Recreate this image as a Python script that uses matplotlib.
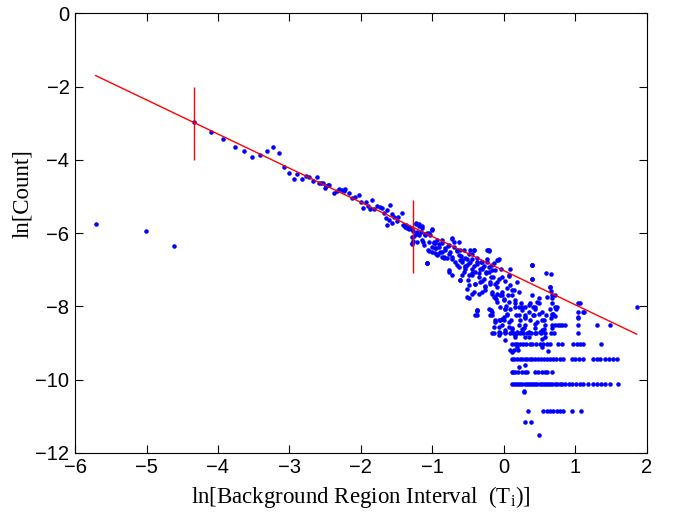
import matplotlib
matplotlib.use("Agg")
import matplotlib.pyplot as plt

# fitted power-law line and its two range markers
fit_x = [-5.71, 1.86]
fit_y = [-1.70, -8.76]
marker_x = [-4.33, -1.27]
marker_lo = [-4.0, -7.1]
marker_hi = [-2.0, -5.1]

# scattered points
cloud_x = [
    -5.71, -5.01, -4.62, 1.86,
    -4.33, -4.10, -3.93, -3.76, -3.63, -3.52, -3.41, -3.32, -3.23, -3.15,
    -3.08, -3.01, -2.94, -2.89, -2.82, -2.77, -2.72, -2.67, -2.62, -2.58,
    -2.53, -2.50, -2.46,
    -2.56, -2.49, -2.44, -2.38, -2.34, -2.30, -2.27, -2.24, -2.22, -2.16,
    -2.12, -2.08, -2.03, -2.00, -1.97, -1.93, -1.90, -1.85, -1.87, -1.82,
    -1.77, -1.73, -1.70, -1.68, -1.63, -1.59, -1.65, -1.61, -1.57, -1.54,
    -1.50, -1.48, -1.43, -1.63, -1.56, -1.41, -1.38, -1.35, -1.32, -1.27,
    -1.23, -1.19, -1.15, -1.21, -1.23, -1.29, -1.27, -1.29, -1.22, -1.10,
    -1.05, -1.00, -0.98, -1.06, -0.96,
    -1.37, -1.33, -1.28, -1.23, -1.19, -1.15, -1.25, -1.29, -1.18, -1.13,
    -1.08, -1.03, -1.01, -1.05, -0.97, -0.95, -0.91, -0.87, -1.08, -0.92,
    -0.87, -0.84, -0.82, -0.78, -0.72, -0.77, -0.73, -0.70, -0.66, -0.63,
    -0.60, -0.77, -0.65, -0.58, -0.55, -0.61, -0.52, -0.48, -0.45, -0.42,
    -0.38, -0.34, -0.31, -0.51, -0.41, -0.28, -0.23, -0.21, -0.25, -0.18,
    -0.14, -0.12, -0.26, -0.35, -0.44, -0.17, -0.09,
    -0.62, -0.49, -0.42, -0.22, -0.07, 0.09, 0.39, 0.59, 0.67, 0.73,
    -0.58, -0.54, -0.49, -0.44, -0.37, -0.32, -0.30, -0.25, -0.21, -0.17,
    -0.12, -0.04, -0.59, -0.50, -0.44, -0.41, -0.35, -0.30, -0.26, -0.19,
    -0.15, -0.09, -0.03, 0.02, 0.07, -0.51, -0.37, -0.17, -0.11, -0.05,
    0.00, 0.06, 0.11, 0.16, 0.21, 0.03, 0.09, 0.15, 0.24, 0.30,
    0.36, 0.41, 0.47, 0.49, -0.17, -0.12, -0.03, 0.04, 0.10, 0.17,
    0.23, 0.30, 0.36, 0.42, 0.53, 0.59, -0.07, 0.02, 0.11, 0.19,
    0.28, 0.35, 0.43, 0.50, 0.56, 0.68, -0.14, -0.18,
    0.39, 0.39, 0.65, 0.66, 1.04, 1.11, 1.04, -0.09, -0.24, -0.40,
    -0.38, -0.49, -1.07,
    0.65, 0.66, 0.67, 0.72, 0.68, 0.75, 0.67, 0.71, 0.66, 1.06,
    1.04, 1.12, 1.04,
    -0.03, 0.02, 0.00, 0.07, 0.11, 0.16, 0.18, 0.14, 0.25, 0.30,
    0.35, 0.44, 0.49, 0.53, 0.58, 0.44, 0.25, 0.30, 0.53, 0.62,
    0.21, 0.28, -0.17, -0.14, -0.07, -0.05, -0.12, -0.21, 0.02,
    0.08, 0.12, 0.20, 0.30, 0.28, 0.30, 0.38, 0.49,
]
cloud_y = [
    -5.75, -5.93, -6.34, -8.02,
    -2.97, -3.23, -3.43, -3.66, -3.75, -3.93, -3.86, -3.75, -3.66, -3.82,
    -4.20, -4.37, -4.53, -4.38, -4.52, -4.45, -4.48, -4.58, -4.47, -4.63,
    -4.64, -4.76, -4.69,
    -4.63, -4.72, -4.70, -4.90, -4.86, -4.79, -4.83, -4.86, -4.79, -4.90,
    -5.03, -5.01, -4.95, -5.16, -5.32, -5.15, -5.25, -5.10, -5.34, -5.34,
    -5.25, -5.28, -5.31, -5.46, -5.36, -5.22, -5.60, -5.65, -5.48, -5.56,
    -5.67, -5.57, -5.46, -5.77, -5.72, -5.77, -5.83, -5.87, -5.90, -5.94,
    -5.74, -5.81, -5.85, -5.96, -6.03, -6.10, -6.21, -6.30, -6.25, -6.03,
    -6.01, -5.90, -6.24, -6.47, -6.54,
    -5.78, -5.83, -5.88, -5.72, -5.76, -5.81, -6.07, -6.28, -6.05, -6.25,
    -5.99, -6.05, -6.38, -6.49, -6.27, -6.41, -6.30, -6.18, -6.81, -6.56,
    -6.52, -6.65, -6.45, -6.34, -6.14, -6.56, -6.70, -6.38, -6.49, -6.25,
    -6.63, -7.01, -6.88, -6.80, -6.89, -7.29, -6.70, -6.47, -7.10, -6.89,
    -6.69, -6.98, -6.80, -7.54, -7.38, -6.89, -6.70, -6.49, -7.10, -7.20,
    -6.83, -7.38, -7.56, -7.65, -7.65, -7.01, -7.65,
    -6.45, -6.56, -6.45, -6.47, -6.72, -6.98, -6.88, -7.10, -7.76, -8.06,
    -6.74, -6.92, -6.83, -6.72, -6.85, -6.78, -6.94, -7.07, -6.92, -6.87,
    -7.01, -6.98, -7.14, -7.27, -7.14, -7.38, -7.21, -7.31, -7.45, -7.38,
    -7.21, -7.34, -7.20, -7.32, -7.18, -7.74, -8.13, -7.65, -7.80, -7.69,
    -7.81, -7.70, -7.56, -7.83, -7.61, -7.98, -8.07, -8.02, -7.92, -8.02,
    -7.91, -8.02, -7.89, -7.76, -8.25, -8.38, -8.34, -8.25, -8.38, -8.25,
    -8.38, -8.25, -8.38, -8.25, -8.38, -8.25, -8.56, -8.65, -8.58, -8.71,
    -8.58, -8.71, -8.58, -8.71, -8.62, -8.60, -8.74, -8.11,
    -6.88, -7.26, -7.47, -7.12, -7.92, -8.15, -8.29, -6.74, -6.47, -8.24,
    -8.11, -7.76, -6.81,
    -7.47, -7.58, -7.70, -7.70, -7.91, -8.03, -8.20, -8.27, -8.31, -7.91,
    -8.16, -8.16, -8.33,
    -7.70, -8.06, -8.38, -8.56, -8.70, -8.84, -9.11, -9.20, -8.02, -8.29,
    -8.15, -8.47, -8.20, -8.65, -8.84, -8.02, -8.61, -8.84, -9.11, -9.22,
    -9.66, -10.31, -8.15, -8.56, -8.70, -8.38, -8.43, -8.06, -8.93,
    -9.18, -9.25, -9.20, -9.60, -10.34, -11.16, -11.16, -11.50,
]

# extra points from the crowded middle of the cloud
dense_x = [
    -1.16, -1.10, -1.00, -1.05, -0.98, -0.93, -0.91, -0.86, -0.82, -0.77,
    -0.73, -0.70, -1.00, -0.93, -0.86, -0.79, -0.72, -0.65, -0.63, -0.56,
    -0.54, -0.44, -0.42, -1.07, -0.77, -0.72, -0.63, -0.61, -0.56, -0.51,
    -0.49, -0.44, -0.49, -0.38, -0.35, -0.31, -0.28, -0.24, -0.21, -0.21,
    -0.19, -0.42, -0.31, -0.17, -0.14, -0.10, -0.10, -0.07, -0.08, -0.05,
    0.00, 0.02, 0.04, 0.07, 0.09, 0.11, 0.07, 0.16, 0.21, 0.18,
    0.21, 0.25, 0.30, 0.35, 0.39, 0.39, 0.39, 0.41, 0.44, 0.46,
    0.49, 0.53, 0.56, 0.58, 0.60, 0.65, 0.67, 0.69, 0.72, -0.19,
    -0.17, -0.38, -0.38, -0.07, -0.03, 0.02, 0.11, 0.16, 0.25, 0.35,
    0.44, 0.53,
    -1.14, -1.12, -0.96, -0.89, -0.84, -0.75, -0.68, -0.61, -0.54, -0.47,
    -0.40, -0.33, -0.26, -0.12, -0.03, 0.04, 0.14, 0.00, 0.07, 0.21,
    0.30, -0.07,
]
dense_y = [
    -5.97, -6.06, -5.92, -6.24, -6.28, -6.19, -6.38, -6.28, -6.42, -6.33,
    -6.15, -6.24, -6.51, -6.60, -6.65, -6.69, -6.65, -6.47, -6.60, -6.47,
    -6.69, -6.56, -6.47, -6.83, -7.06, -7.15, -6.92, -7.29, -7.06, -6.88,
    -7.15, -6.97, -7.42, -6.79, -7.10, -6.97, -7.24, -6.79, -6.47, -7.06,
    -7.33, -7.61, -7.61, -7.61, -7.74, -7.47, -7.88, -7.24, -6.74, -8.02,
    -7.83, -8.06, -8.20, -7.15, -7.42, -7.70, -7.88, -7.92, -8.02, -7.33,
    -8.24, -8.11, -8.33, -7.97, -6.88, -7.24, -7.70, -8.24, -8.06, -8.43,
    -7.92, -8.15, -8.38, -8.52, -7.74, -8.06, -8.24, -8.20, -8.02, -8.24,
    -8.74, -8.11, -8.24, -8.79, -8.52, -8.70, -8.61, -8.79, -8.70, -8.84,
    -8.74, -8.88,
    -6.19, -6.33, -6.42, -6.51, -6.69, -6.51, -6.79, -6.74, -6.97, -6.79,
    -7.06, -7.33, -7.47, -7.74, -7.61, -7.51, -7.56, -8.29, -8.43, -8.52,
    -8.52, -8.38,
]

# horizontal bands of repeated counts
band_levels = [-8.51, -8.73, -9.02, -9.43, -9.79, -10.12, -10.87]
band_x = [
    [0.67, 0.72, 0.76, 0.79, 0.81, 0.86, 1.04, 1.31, 1.49],
    [-0.05, 0.02, 0.08, 0.13, 0.18, 0.22, 0.27, 0.33, 0.38, 0.45, 0.52,
     0.58, 0.66, 0.70, 1.04],
    [0.11, 0.15, 0.19, 0.23, 0.27, 0.31, 0.36, 0.40, 0.45, 0.50, 0.55,
     0.60, 0.65, 0.76, 0.81, 0.97, 1.02, 1.07, 1.11, 1.36],
    [0.11, 0.14, 0.18, 0.22, 0.26, 0.30, 0.33, 0.37, 0.40, 0.44, 0.48,
     0.52, 0.56, 0.60, 0.64, 0.69, 0.73, 0.78, 0.83, 0.95, 1.00, 1.05,
     1.11, 1.25, 1.30, 1.35, 1.41, 1.47, 1.53, 1.58],
    [0.11, 0.13, 0.15, 0.20, 0.25, 0.29, 0.33, 0.43, 0.48, 0.53, 0.58,
     0.60, 0.67],
    [0.11, 0.14, 0.17, 0.20, 0.23, 0.26, 0.29, 0.32, 0.35, 0.38, 0.41,
     0.44, 0.47, 0.50, 0.53, 0.56, 0.59, 0.62, 0.65, 0.68, 0.71, 0.74,
     0.78, 0.82, 0.86, 0.91, 0.96, 1.01, 1.06, 1.11, 1.18, 1.25, 1.30,
     1.36, 1.42, 1.49, 1.60],
    [0.34, 0.55, 0.60, 0.65, 0.69, 0.74, 0.79, 0.83, 0.95, 1.08],
]

x_ticks = [-6, -5, -4, -3, -2, -1, 0, 1, 2]
y_ticks = [0, -2, -4, -6, -8, -10, -12]

plt.rcParams["font.family"] = ["Liberation Sans", "DejaVu Sans"]

fig = plt.figure(figsize=(6.73, 5.14), dpi=100)
ax = fig.add_axes([0.1115, 0.119, 0.8495, 0.855])

dot = {"color": "#0000ff", "markersize": 4.5, "linestyle": "none", "marker": "."}
ax.plot(cloud_x, cloud_y, **dot)
ax.plot(dense_x, dense_y, **dot)
for level, xs in zip(band_levels, band_x):
    ax.plot(xs, [level] * len(xs), **dot)

ax.plot(fit_x, fit_y, color="#ff0000", linewidth=1.0)
ax.vlines(marker_x, marker_lo, marker_hi, color="#ff0000", linewidth=1.0)

ax.set_xlim(-6, 2)
ax.set_ylim(-12, 0)
ax.set_xticks(x_ticks)
ax.set_yticks(y_ticks)
ax.tick_params(direction="in", top=True, right=True, length=6, width=0.8,
               labelsize=14.5, pad=4)
for side in ax.spines.values():
    side.set_linewidth(0.8)

serif = {"family": ["Liberation Serif", "DejaVu Serif"], "size": 16.5}
ax.set_xlabel(r"ln[Background Region Interval  (T$_{\mathregular{i}}$)]",
              fontdict=serif, labelpad=5)
ax.set_ylabel("ln[Count]", fontdict=serif)
ax.yaxis.set_label_coords(-0.073, 0.59)

fig.savefig("out.png", dpi=100)
